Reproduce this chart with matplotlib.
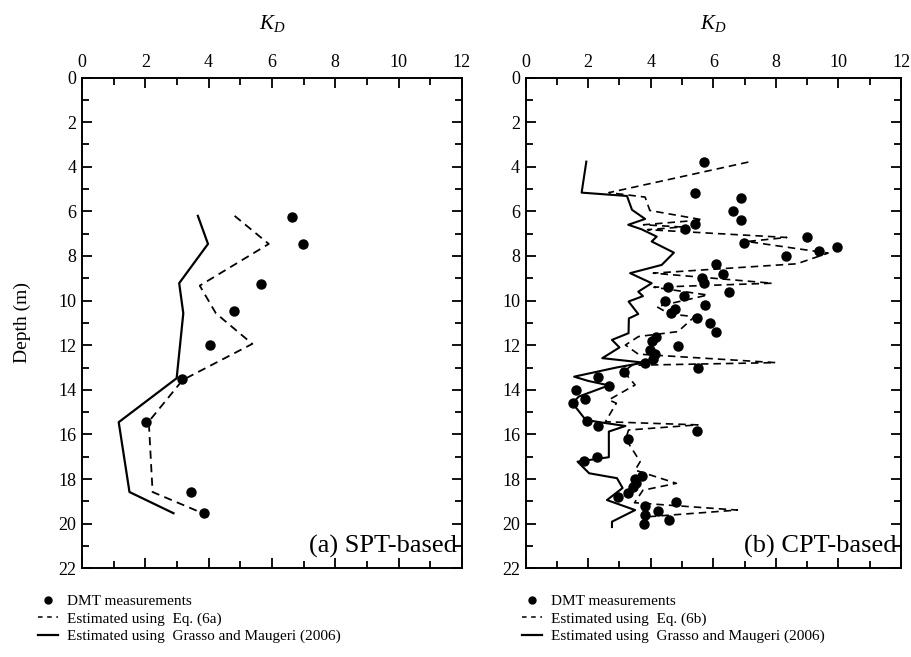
import matplotlib
matplotlib.use("Agg")
import matplotlib.pyplot as plt
from matplotlib.lines import Line2D
from matplotlib.ticker import MultipleLocator

plt.rcParams['font.family'] = ['Liberation Serif', 'DejaVu Serif']
plt.rcParams['mathtext.fontset'] = 'custom'
plt.rcParams['mathtext.it'] = 'Liberation Serif:italic'
plt.rcParams['mathtext.rm'] = 'Liberation Serif'

# ---------- Panel (a) SPT-based ----------
a_dmt_k = [6.63, 6.98, 5.66, 4.80, 4.05, 3.16, 2.01, 3.45, 3.86]
a_dmt_d = [6.23, 7.47, 9.24, 10.48, 12.0, 13.5, 15.45, 18.58, 19.5]

a_eq_k = [4.82, 5.90, 3.72, 4.23, 5.38, 3.18, 2.11, 2.23, 3.81]
a_eq_d = [6.2, 7.46, 9.33, 10.57, 11.94, 13.56, 15.42, 18.58, 19.53]

a_gm_k = [3.66, 3.98, 3.07, 3.20, 2.99, 1.16, 1.50, 2.89]
a_gm_d = [6.2, 7.46, 9.22, 10.57, 13.48, 15.45, 18.58, 19.53]

# ---------- Panel (b) CPT-based ----------
b_dmt_k = [5.69, 5.43, 6.88, 6.62, 6.88, 5.43, 5.08, 9.00, 6.98, 9.95, 9.38, 8.31,
           6.10, 6.32, 5.65, 5.69, 4.56, 6.49, 5.05, 4.47, 5.73, 4.77, 4.64, 5.47,
           5.88, 6.10, 4.17, 4.05, 4.88, 3.99, 4.14, 4.06, 3.80, 5.51, 3.13, 2.31,
           2.66, 1.60, 1.90, 1.52, 1.96, 2.31, 5.47, 3.26, 2.29, 1.88, 3.71, 3.50,
           3.53, 3.43, 3.27, 2.95, 4.82, 3.82, 4.24, 3.82, 4.58, 3.79]
b_dmt_d = [3.79, 5.18, 5.38, 5.98, 6.38, 6.57, 6.80, 7.17, 7.40, 7.59, 7.77, 7.98,
           8.37, 8.79, 8.97, 9.19, 9.37, 9.60, 9.78, 10.01, 10.19, 10.39, 10.57, 10.79,
           10.99, 11.40, 11.61, 11.81, 12.02, 12.21, 12.40, 12.61, 12.81, 13.00, 13.21, 13.41,
           13.81, 14.00, 14.42, 14.60, 15.39, 15.62, 15.83, 16.22, 17.02, 17.20, 17.85, 18.00,
           18.19, 18.37, 18.61, 18.79, 19.04, 19.21, 19.42, 19.62, 19.82, 20.01]

b_eq_k = [7.12, 2.66, 3.82, 3.97, 5.66, 3.77, 5.00, 3.90, 8.35, 7.08, 9.67, 8.67,
          4.08, 7.88, 4.10, 5.82, 4.19, 4.60, 5.40, 4.87, 3.61, 3.19, 3.60, 7.99,
          3.40, 3.13, 3.50, 2.66, 2.90, 2.55, 5.51, 3.29, 3.20, 3.66, 3.50, 4.82,
          3.75, 3.48, 6.77, 3.80, 3.90]
b_eq_d = [3.79, 5.16, 5.36, 5.96, 6.38, 6.60, 6.70, 6.82, 7.17, 7.35, 7.87, 8.35,
          8.77, 9.22, 9.40, 9.75, 10.27, 10.60, 10.72, 11.39, 11.61, 11.99, 12.40, 12.78,
          12.90, 13.18, 13.78, 14.45, 14.60, 15.43, 15.57, 15.80, 16.20, 17.22, 17.60, 18.19,
          18.50, 19.06, 19.39, 19.70, 19.95]

b_gm_k = [1.94, 1.79, 3.24, 3.40, 3.82, 3.28, 3.70, 4.19, 4.03, 4.74, 4.35, 3.34,
          4.03, 3.60, 3.75, 3.29, 3.60, 3.30, 3.29, 2.76, 3.00, 2.45, 3.77, 2.90,
          1.55, 2.00, 2.66, 1.70, 1.50, 1.92, 2.60, 3.19, 2.66, 2.66, 1.66, 2.03,
          2.92, 3.10, 2.60, 3.50, 2.76, 2.76]
b_gm_d = [3.77, 5.16, 5.31, 5.93, 6.34, 6.60, 6.80, 7.13, 7.35, 7.85, 8.40, 8.77,
          9.22, 9.60, 9.80, 10.04, 10.60, 10.80, 11.46, 11.76, 12.10, 12.58, 12.78, 13.00,
          13.41, 13.60, 13.80, 14.30, 14.60, 15.35, 15.50, 15.62, 15.87, 17.02, 17.22, 17.74,
          17.96, 18.40, 18.94, 19.39, 19.91, 20.15]

x_ticks = [0, 2, 4, 6, 8, 10, 12]
y_ticks = [0, 2, 4, 6, 8, 10, 12, 14, 16, 18, 20, 22]

fig = plt.figure(figsize=(9.11, 6.57), dpi=100)
ax_a = fig.add_axes([0.090, 0.135, 0.417, 0.747])
ax_b = fig.add_axes([0.577, 0.135, 0.412, 0.747])

dash = (0, (4.5, 3))


def style(ax):
    ax.set_xlim(0, 12)
    ax.set_ylim(22, 0)
    ax.set_xticks(x_ticks)
    ax.set_yticks(y_ticks)
    ax.xaxis.set_minor_locator(MultipleLocator(1))
    ax.yaxis.set_minor_locator(MultipleLocator(1))
    ax.xaxis.tick_top()
    ax.tick_params(axis='x', which='both', top=True, bottom=True, labeltop=True,
                   labelbottom=False, direction='in', labelsize=13, pad=5)
    ax.tick_params(axis='y', which='both', left=True, right=True, direction='in',
                   labelsize=13, pad=4)
    ax.tick_params(which='major', length=7, width=1.3)
    ax.tick_params(which='minor', length=5, width=1.3)
    for s in ax.spines.values():
        s.set_linewidth(1.4)
    ax.xaxis.set_label_position('top')
    ax.set_xlabel('$K_D$', fontsize=15, labelpad=18)


style(ax_a)
style(ax_b)

ax_a.plot(a_dmt_k, a_dmt_d, 'o', color='black', markersize=6.5, linestyle='none')
ax_a.plot(a_eq_k, a_eq_d, color='black', linestyle=dash, linewidth=1.3)
ax_a.plot(a_gm_k, a_gm_d, color='black', linestyle='-', linewidth=1.6)
ax_a.set_ylabel('Depth (m)', fontsize=14, labelpad=20)
ax_a.text(0.988, 0.045, '(a) SPT-based', transform=ax_a.transAxes, ha='right',
          va='center', fontsize=19)

ax_b.plot(b_dmt_k, b_dmt_d, 'o', color='black', markersize=6.5, linestyle='none')
ax_b.plot(b_eq_k, b_eq_d, color='black', linestyle=dash, linewidth=1.2)
ax_b.plot(b_gm_k, b_gm_d, color='black', linestyle='-', linewidth=1.5)
ax_b.text(0.988, 0.045, '(b) CPT-based', transform=ax_b.transAxes, ha='right',
          va='center', fontsize=19)


def add_legend(ax, eq_label, anchor_x):
    handles = [
        Line2D([], [], marker='o', color='black', linestyle='none', markersize=5),
        Line2D([], [], color='black', linestyle=(0, (3, 3)), linewidth=1.1),
        Line2D([], [], color='black', linestyle='-', linewidth=1.6),
    ]
    labels = ['DMT measurements', eq_label,
              'Estimated using  Grasso and Maugeri (2006)']
    ax.legend(handles, labels, loc='upper left', bbox_to_anchor=(anchor_x, -0.053),
              frameon=False, handlelength=1.3, handletextpad=0.6, labelspacing=0.25,
              borderaxespad=0, borderpad=0, fontsize=11)


add_legend(ax_a, 'Estimated using  Eq. (6a)', -0.115)
add_legend(ax_b, 'Estimated using  Eq. (6b)', -0.01)

fig.savefig('out.png', dpi=100)
